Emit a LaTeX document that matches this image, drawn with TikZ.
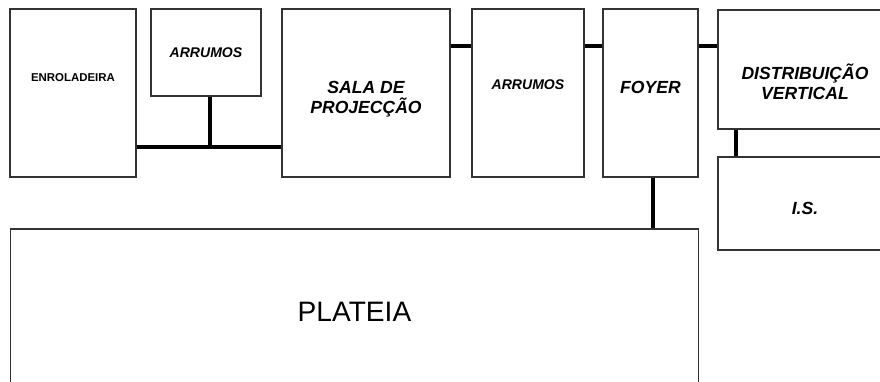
\documentclass[tikz,border=0pt]{standalone}
\usepackage{fontspec}
\setmainfont{Liberation Sans}
\usetikzlibrary{positioning}

\begin{document}
\begin{tikzpicture}[x=0.02cm,y=-0.02cm,
  room/.style={rectangle,draw=black!80,line width=0.6pt,fill=white,inner sep=0pt},
  tag/.style={font=\fontsize{10}{11.5}\selectfont\bfseries\itshape,align=center},
  small tag/.style={font=\fontsize{8}{10}\selectfont\bfseries\itshape},
  link/.style={line width=2.3pt,black}]

  \useasboundingbox (0,0) rectangle (880,382);
  \clip (0,0) rectangle (880,382);

  % rooms
  \node[room,minimum width=2.52cm,minimum height=3.36cm,
    label={[font=\fontsize{6.5}{8}\selectfont\bfseries,yshift=0.3cm]center:ENROLADEIRA}] (enr) at (73,93) {};
  \node[room,minimum width=2.2cm,minimum height=1.74cm,
    label={[small tag]center:ARRUMOS}] (arr1) at (206,52.5) {};
  \node[room,minimum width=3.36cm,minimum height=3.36cm,
    label={[tag,yshift=-0.12cm]center:{SALA DE\\PROJECÇÃO}}] (sala) at (366,93) {};
  \node[room,minimum width=2.24cm,minimum height=3.36cm,
    label={[small tag,yshift=0.16cm]center:ARRUMOS}] (arr2) at (528,93) {};
  \node[room,minimum width=1.9cm,minimum height=3.36cm,
    label={[tag,yshift=0.12cm]center:FOYER}] (foyer) at (650.5,93) {};
  \node[room,minimum width=3.48cm,minimum height=2.38cm,
    label={[tag,yshift=-0.25cm]center:{DISTRIBUIÇÃO\\VERTICAL}}] (dist) at (805,69.5) {};
  \node[room,minimum width=3.48cm,minimum height=1.86cm,
    label={[tag,yshift=-0.09cm]center:I.S.}] (is) at (805,203.5) {};
  \node[room,minimum width=13.78cm,minimum height=3.42cm,
    label={[font=\fontsize{16}{18}\selectfont,yshift=0.05cm]center:PLATEIA}] (plat) at (354.5,314.5) {};

  % corridors
  \coordinate (bus) at (210,147);
  \coordinate (top) at (0,46);
  \coordinate (dv) at (736,0);

  \draw[link] (enr.east |- bus) -- (sala.west |- bus);
  \draw[link] (arr1.south -| bus) -- (bus);
  \draw[link] (sala.east |- top) -- (arr2.west |- top);
  \draw[link] (arr2.east |- top) -- (foyer.west |- top);
  \draw[link] (foyer.east |- top) -- (dist.west |- top);
  \draw[link] ([xshift=0.05cm]foyer.south) -- ([xshift=0.05cm]foyer.south |- plat.north);
  \draw[link] (dist.south -| dv) -- (is.north -| dv);

\end{tikzpicture}
\end{document}
